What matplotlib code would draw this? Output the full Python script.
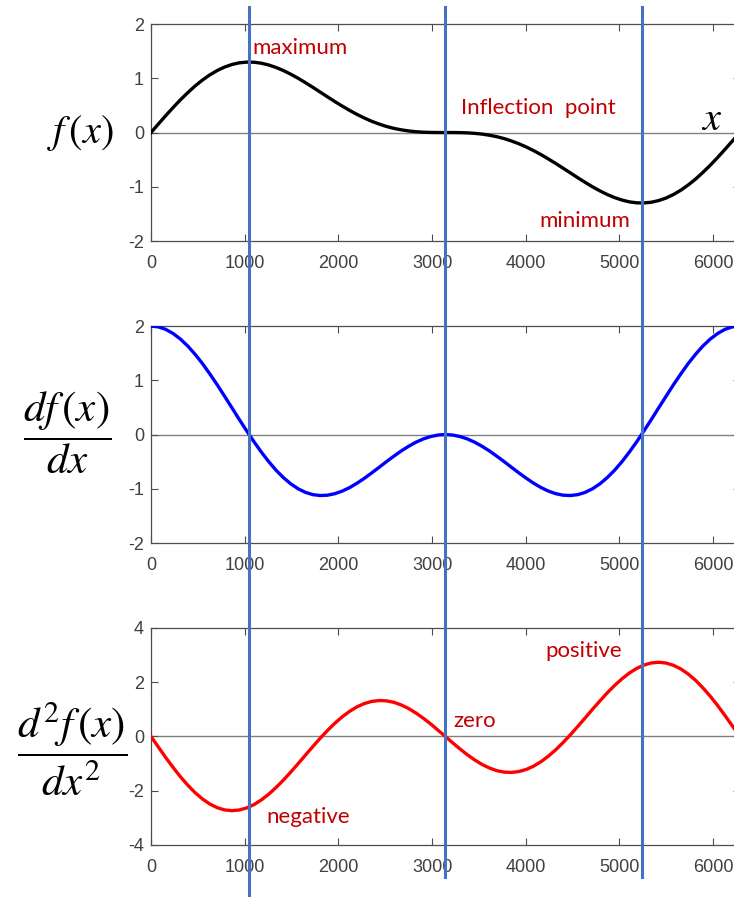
import matplotlib
matplotlib.use("Agg")
from matplotlib import pyplot as plt
from matplotlib.lines import Line2D
from matplotlib.transforms import blended_transform_factory

plt.rcParams['mathtext.fontset'] = 'stix'
plt.rcParams['font.family'] = ['Liberation Sans', 'DejaVu Sans']

# sample positions along x
x = [0, 79, 157, 236, 314, 393, 471, 550, 628, 707, 785, 864, 942, 1021, 1100,
     1178, 1257, 1335, 1414, 1492, 1571, 1649, 1728, 1806, 1885, 1963, 2042,
     2121, 2199, 2278, 2356, 2435, 2513, 2592, 2670, 2749, 2827, 2906, 2985,
     3063, 3142, 3220, 3299, 3377, 3456, 3534, 3613, 3691, 3770, 3848, 3927,
     4006, 4084, 4163, 4241, 4320, 4398, 4477, 4555, 4634, 4712, 4791, 4869,
     4948, 5027, 5105, 5184, 5262, 5341, 5419, 5498, 5576, 5655, 5733, 5812,
     5890, 5969, 6048, 6126, 6205, 6283]

f = [0.000, 0.157, 0.311, 0.460, 0.603, 0.736, 0.859, 0.968, 1.063, 1.143,
     1.207, 1.254, 1.285, 1.298, 1.296, 1.278, 1.245, 1.199, 1.142, 1.075,
     1.000, 0.919, 0.833, 0.745, 0.657, 0.570, 0.487, 0.407, 0.334, 0.267,
     0.207, 0.156, 0.112, 0.077, 0.050, 0.029, 0.015, 0.006, 0.002, 0.000,
     0.000, -0.000, -0.002, -0.006, -0.015, -0.029, -0.050, -0.077, -0.112,
     -0.156, -0.207, -0.267, -0.334, -0.407, -0.487, -0.570, -0.657, -0.745,
     -0.833, -0.919, -1.000, -1.075, -1.142, -1.199, -1.245, -1.278, -1.296,
     -1.298, -1.285, -1.254, -1.207, -1.143, -1.063, -0.968, -0.859, -0.736,
     -0.603, -0.460, -0.311, -0.157, 0.000]

df = [2.000, 1.985, 1.939, 1.863, 1.760, 1.631, 1.479, 1.307, 1.118, 0.917,
      0.707, 0.493, 0.279, 0.069, -0.134, -0.324, -0.500, -0.658, -0.795,
      -0.909, -1.000, -1.066, -1.108, -1.124, -1.118, -1.090, -1.042, -0.977,
      -0.897, -0.806, -0.707, -0.604, -0.500, -0.399, -0.303, -0.217, -0.142,
      -0.081, -0.037, -0.009, 0.000, -0.009, -0.037, -0.081, -0.142, -0.217,
      -0.303, -0.399, -0.500, -0.604, -0.707, -0.806, -0.897, -0.977, -1.042,
      -1.090, -1.118, -1.124, -1.108, -1.066, -1.000, -0.909, -0.795, -0.658,
      -0.500, -0.324, -0.134, 0.069, 0.279, 0.493, 0.707, 0.917, 1.118, 1.307,
      1.479, 1.631, 1.760, 1.863, 1.939, 1.985, 2.000]

d2f = [0.000, -0.391, -0.774, -1.141, -1.485, -1.797, -2.072, -2.305, -2.490,
       -2.625, -2.707, -2.736, -2.711, -2.635, -2.509, -2.338, -2.127, -1.880,
       -1.606, -1.310, -1.000, -0.684, -0.370, -0.064, 0.225, 0.490, 0.727,
       0.929, 1.093, 1.215, 1.293, 1.326, 1.314, 1.260, 1.164, 1.032, 0.867,
       0.675, 0.462, 0.234, 0.000, -0.234, -0.462, -0.675, -0.867, -1.032,
       -1.164, -1.260, -1.314, -1.326, -1.293, -1.215, -1.093, -0.929, -0.727,
       -0.490, -0.225, 0.064, 0.370, 0.684, 1.000, 1.310, 1.606, 1.880, 2.127,
       2.338, 2.509, 2.635, 2.711, 2.736, 2.707, 2.625, 2.490, 2.305, 2.072,
       1.797, 1.485, 1.141, 0.774, 0.391, 0.000]

crit_x = [1047, 3142, 5236]  # maximum, inflection point, minimum

xticks = [0, 1000, 2000, 3000, 4000, 5000, 6000]
yticks_top = [-2, -1, 0, 1, 2]
yticks_mid = [-2, -1, 0, 1, 2]
yticks_bot = [-4, -2, 0, 2, 4]

ylabels = [r'$f\,(x)$', r'$\dfrac{df\,(x)}{dx}$', r'$\dfrac{d^2f\,(x)}{dx^2}$']

notes_top = [("maximum", 1078, 1.56), ("Inflection  point", 3305, 0.45),
             ("minimum", 4141, -1.63)]
notes_bot = [("positive", 4205, 3.16), ("zero", 3223, 0.58),
             ("negative", 1235, -2.97)]

NOTE_RED = '#C00000'
VLINE_BLUE = '#4472C4'
SPINE = '#4d4d4d'

fig = plt.figure(figsize=(7.34, 8.97), dpi=100)

# axes run slightly past the right edge, as in the cropped original
left, width, height = 0.2057, 0.802, 0.2419
bottoms = [0.7313, 0.3946, 0.058]
series = [(f, 'black', yticks_top), (df, '#0000FF', yticks_mid), (d2f, '#FF0000', yticks_bot)]
label_y = [0.852, 0.517, 0.165]
label_x = [0.109, 0.091, 0.098]
label_size = [29, 31, 31]

axes = []
for i, (vals, col, yt) in enumerate(series):
    ax = fig.add_axes([left, bottoms[i], width, height])
    ax.axhline(0, color='#808080', lw=1.0, zorder=1)
    ax.plot(x, vals, color=col, lw=2.4, zorder=3, solid_joinstyle='round')
    ax.set_xlim(0, 6283)
    ax.set_ylim(yt[0], yt[-1])
    ax.set_xticks(xticks)
    ax.set_yticks(yt)
    ax.set_xticklabels([str(t) for t in xticks])
    ax.set_yticklabels([str(t) for t in yt])
    ax.tick_params(direction='in', top=True, right=True, length=5, width=0.8,
                   colors=SPINE, labelcolor='#404040', labelsize=13)
    ax.tick_params(axis='x', pad=10)
    ax.tick_params(axis='y', pad=5)
    for s in ax.spines.values():
        s.set_color(SPINE)
        s.set_linewidth(0.9)
    fig.text(label_x[i], label_y[i], ylabels[i], fontsize=label_size[i],
             ha='center', va='center')
    axes.append(ax)

for txt, tx, ty in notes_top:
    axes[0].text(tx, ty, txt, color=NOTE_RED, fontsize=16, family='Lato',
                 ha='left', va='center')
for txt, tx, ty in notes_bot:
    axes[2].text(tx, ty, txt, color=NOTE_RED, fontsize=16, family='Lato',
                 ha='left', va='center')

axes[0].text(5870, 0.25, r'$x$', fontsize=29, ha='left', va='center')

# vertical guide lines across all three panels
trans = blended_transform_factory(axes[0].transData, fig.transFigure)
line_bottoms = [0.0, 0.022, 0.022]
for cx, yb in zip(crit_x, line_bottoms):
    fig.add_artist(Line2D([cx, cx], [0.992, yb], transform=trans,
                          color=VLINE_BLUE, lw=2.2, zorder=10))

fig.savefig('out.png', dpi=100)
